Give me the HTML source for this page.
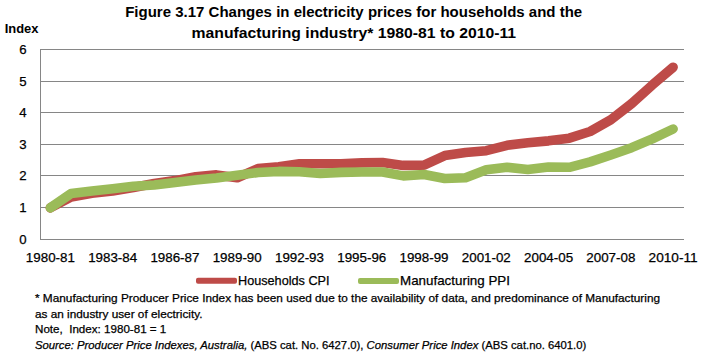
<!DOCTYPE html>
<html><head><meta charset="utf-8"><style>
html,body{margin:0;padding:0;background:#fff;width:703px;height:357px;overflow:hidden}
svg{display:block;font-family:"Liberation Sans",sans-serif}
text{stroke:#000;stroke-width:0.25px}
.b text,text.b{stroke:none}
</style></head><body>
<svg width="703" height="357" viewBox="0 0 703 357">
<rect width="703" height="357" fill="#fff"/>
<g class="b" fill="#000" font-weight="bold" font-size="15.5">
<text x="125.2" y="16.8" textLength="457" lengthAdjust="spacingAndGlyphs">Figure 3.17 Changes in electricity prices for households and the</text>
<text x="191.6" y="37.8" textLength="324.5" lengthAdjust="spacingAndGlyphs">manufacturing industry* 1980-81 to 2010-11</text>
</g>
<text class="b" x="4.7" y="32.9" font-size="12.2" font-weight="bold" fill="#000" textLength="33.8" lengthAdjust="spacingAndGlyphs">Index</text>
<g stroke="#868686" stroke-width="1" fill="none" shape-rendering="crispEdges">
<line x1="40" y1="207.5" x2="684" y2="207.5"/><line x1="40" y1="175.5" x2="684" y2="175.5"/><line x1="40" y1="144.5" x2="684" y2="144.5"/><line x1="40" y1="112.5" x2="684" y2="112.5"/><line x1="40" y1="81.5" x2="684" y2="81.5"/><line x1="40" y1="49.5" x2="684" y2="49.5"/>
<line x1="40.5" y1="49" x2="40.5" y2="240"/>
<line x1="40" y1="239.5" x2="684" y2="239.5"/>
</g>
<g fill="#000" font-size="13.2">
<text x="26.5" y="244.3" text-anchor="end">0</text><text x="26.5" y="212.3" text-anchor="end">1</text><text x="26.5" y="180.3" text-anchor="end">2</text><text x="26.5" y="149.3" text-anchor="end">3</text><text x="26.5" y="117.3" text-anchor="end">4</text><text x="26.5" y="86.3" text-anchor="end">5</text><text x="26.5" y="54.3" text-anchor="end">6</text>
<text x="50.38" y="262" text-anchor="middle" textLength="49" lengthAdjust="spacingAndGlyphs">1980-81</text><text x="112.65" y="262" text-anchor="middle" textLength="49" lengthAdjust="spacingAndGlyphs">1983-84</text><text x="174.93" y="262" text-anchor="middle" textLength="49" lengthAdjust="spacingAndGlyphs">1986-87</text><text x="237.20" y="262" text-anchor="middle" textLength="49" lengthAdjust="spacingAndGlyphs">1989-90</text><text x="299.48" y="262" text-anchor="middle" textLength="49" lengthAdjust="spacingAndGlyphs">1992-93</text><text x="361.75" y="262" text-anchor="middle" textLength="49" lengthAdjust="spacingAndGlyphs">1995-96</text><text x="424.02" y="262" text-anchor="middle" textLength="49" lengthAdjust="spacingAndGlyphs">1998-99</text><text x="486.30" y="262" text-anchor="middle" textLength="49" lengthAdjust="spacingAndGlyphs">2001-02</text><text x="548.57" y="262" text-anchor="middle" textLength="49" lengthAdjust="spacingAndGlyphs">2004-05</text><text x="610.85" y="262" text-anchor="middle" textLength="49" lengthAdjust="spacingAndGlyphs">2007-08</text><text x="673.12" y="262" text-anchor="middle" textLength="49" lengthAdjust="spacingAndGlyphs">2010-11</text>
</g>
<polyline points="50.38,207.83 71.14,197.07 91.90,193.27 112.65,191.05 133.41,187.57 154.17,183.45 174.93,180.60 195.69,176.80 216.44,174.90 237.20,177.75 257.96,168.57 278.72,166.67 299.48,163.82 320.23,163.82 340.99,163.82 361.75,162.87 382.51,162.55 403.27,165.40 424.02,165.08 444.78,155.58 465.54,152.57 486.30,150.68 507.06,145.29 527.81,142.76 548.57,140.86 569.33,138.17 590.09,131.52 610.85,119.80 631.60,103.65 652.36,84.97 673.12,67.23" fill="none" stroke="#BE4B48" stroke-width="9.6" stroke-linejoin="round" stroke-linecap="round"/>
<polyline points="50.38,207.83 71.14,193.58 91.90,191.05 112.65,188.83 133.41,186.30 154.17,185.03 174.93,182.50 195.69,179.97 216.44,178.07 237.20,175.22 257.96,172.52 278.72,171.42 299.48,171.73 320.23,173.47 340.99,172.37 361.75,172.05 382.51,172.05 403.27,175.85 424.02,174.58 444.78,178.54 465.54,177.75 486.30,169.83 507.06,167.30 527.81,169.52 548.57,166.98 569.33,167.30 590.09,161.92 610.85,154.95 631.60,147.67 652.36,138.80 673.12,128.98" fill="none" stroke="#9BBB59" stroke-width="9.6" stroke-linejoin="round" stroke-linecap="round"/>
<rect x="196" y="277.8" width="41" height="6" rx="2" fill="#BE4B48"/>
<rect x="358" y="278" width="41" height="6" rx="2" fill="#9BBB59"/>
<g fill="#000" font-size="13.2">
<text x="238" y="285" textLength="91.5" lengthAdjust="spacingAndGlyphs">Households CPI</text>
<text x="400" y="285" textLength="110" lengthAdjust="spacingAndGlyphs">Manufacturing PPI</text>
</g>
<g fill="#000" font-size="11.2">
<text x="35" y="302" textLength="625" lengthAdjust="spacingAndGlyphs">* Manufacturing Producer Price Index has been used due to the availability of data, and predominance of Manufacturing</text>
<text x="35" y="317.5" textLength="167.5" lengthAdjust="spacingAndGlyphs">as an industry user of electricity.</text>
<text x="35" y="332.6" textLength="131.3" lengthAdjust="spacingAndGlyphs" xml:space="preserve">Note,  Index: 1980-81 = 1</text>
<text x="35" y="348.9" textLength="551.3" lengthAdjust="spacingAndGlyphs"><tspan font-style="italic">Source: Producer Price Indexes, Australia,</tspan> (ABS cat. No. 6427.0), <tspan font-style="italic">Consumer Price Index</tspan> (ABS cat.no. 6401.0)</text>
</g>
</svg>
</body></html>
